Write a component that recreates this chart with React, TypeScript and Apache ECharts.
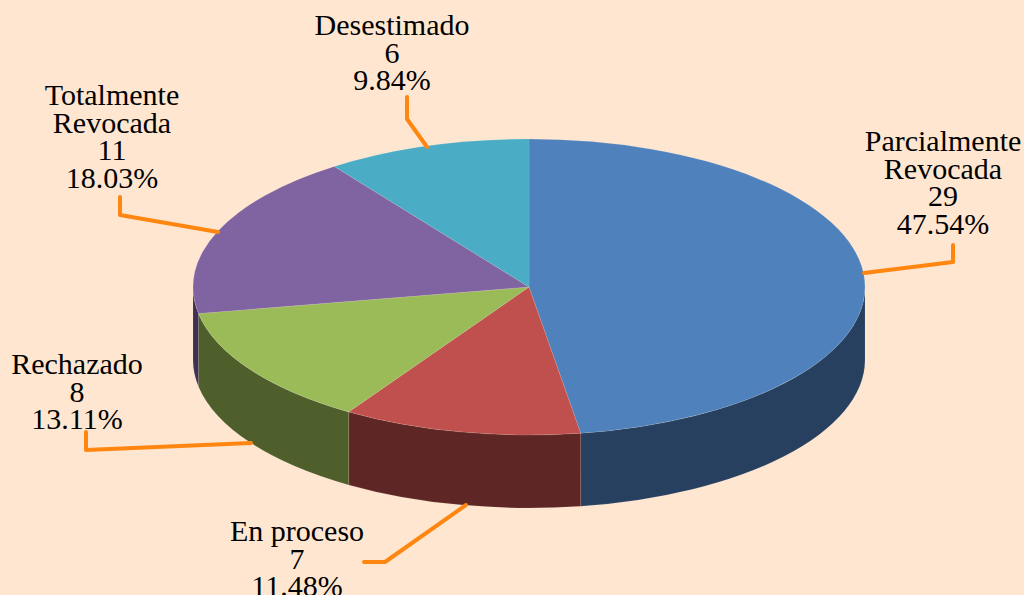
import React, { useEffect, useRef } from "react";
import * as echarts from "echarts";

const categories = ["Parcialmente\nRevocada", "En proceso", "Rechazado", "Totalmente\nRevocada", "Desestimado"];
const counts = [29, 7, 8, 11, 6];
const percents = ["47.54%", "11.48%", "13.11%", "18.03%", "9.84%"];

const topColors = ["#4F81BD", "#C0504D", "#9BBB59", "#8064A2", "#4BACC6"];
const sideColors = ["#27405F", "#5E2725", "#4F5F2C", "#3F3153", "#25596B"];

const CX = 529, CY = 287, RX = 336, RY = 148, DEPTH = 73;
const BG = "#FFE6D0";
const FONT = "'Liberation Serif', 'Times New Roman', serif";

const labelCentres = [[943, 182], [297, 558], [77, 391], [112, 136], [392, 52]];
const leaders = [
  [[864, 273], [953, 262], [953, 245]],
  [[466, 505], [385, 562], [364, 562]],
  [[251, 443], [86, 450], [86, 432]],
  [[218, 232], [120, 215], [120, 197]],
  [[427, 147], [407, 119], [407, 97]],
];

const total = counts.reduce((a, b) => a + b, 0);
const bounds = counts.reduce<number[]>((acc, v) => [...acc, acc[acc.length - 1] + (v / total) * 2 * Math.PI], [0]);
const pt = (a: number, dy = 0) => [CX + RX * Math.sin(a), CY - RY * Math.cos(a) + dy];

function topPath(i: number) {
  const a0 = bounds[i], a1 = bounds[i + 1];
  const [x0, y0] = pt(a0), [x1, y1] = pt(a1);
  const large = a1 - a0 > Math.PI ? 1 : 0;
  return `M${CX} ${CY}L${x0} ${y0}A${RX} ${RY} 0 ${large} 1 ${x1} ${y1}Z`;
}

function sidePath(i: number) {
  const a0 = Math.max(bounds[i], Math.PI / 2), a1 = Math.min(bounds[i + 1], (3 * Math.PI) / 2);
  if (a1 <= a0) return null;
  const [x0, y0] = pt(a0), [x1, y1] = pt(a1);
  return `M${x0} ${y0}A${RX} ${RY} 0 0 1 ${x1} ${y1}L${x1} ${y1 + DEPTH}A${RX} ${RY} 0 0 0 ${x0} ${y0 + DEPTH}Z`;
}

export default function App() {
  const ref = useRef<HTMLDivElement>(null);
  useEffect(() => {
    document.body.style.margin = "0";
    document.body.style.background = BG;
    const chart = echarts.init(ref.current!, undefined, { renderer: "svg" });
    chart.setOption({
      animation: false,
      backgroundColor: BG,
      series: [
        {
          type: "custom",
          coordinateSystem: "none",
          silent: true,
          z: 1,
          data: counts,
          renderItem: (p: any) => {
            const d = sidePath(p.dataIndex);
            return d
              ? { type: "path", shape: { pathData: d },
                  style: { fill: sideColors[p.dataIndex], stroke: "rgba(255,255,255,0.18)", lineWidth: 0.5 } }
              : { type: "group", children: [] };
          },
        },
        {
          type: "custom",
          coordinateSystem: "none",
          silent: true,
          z: 2,
          data: counts,
          renderItem: (p: any) => ({
            type: "path",
            shape: { pathData: topPath(p.dataIndex) },
            style: { fill: topColors[p.dataIndex], stroke: "rgba(255,255,255,0.2)", lineWidth: 0.5 },
          }),
        },
        {
          type: "custom",
          coordinateSystem: "none",
          silent: true,
          z: 3,
          data: counts,
          renderItem: (p: any) => {
            const i = p.dataIndex;
            return {
              type: "group",
              children: [
                {
                  type: "polyline",
                  shape: { points: leaders[i] },
                  style: { stroke: "#FF8711", lineWidth: 4, fill: "none", lineCap: "round", lineJoin: "round" },
                },
                {
                  type: "text",
                  style: {
                    text: `${categories[i]}\n${counts[i]}\n${percents[i]}`,
                    x: labelCentres[i][0],
                    y: labelCentres[i][1],
                    align: "center",
                    verticalAlign: "middle",
                    fontFamily: FONT,
                    fontSize: 30,
                    lineHeight: 27.5,
                    fill: "#000000",
                  },
                },
              ],
            };
          },
        },
      ],
    });
    return () => chart.dispose();
  }, []);
  return <div ref={ref} style={{ width: 1024, height: 595 }} />;
}
